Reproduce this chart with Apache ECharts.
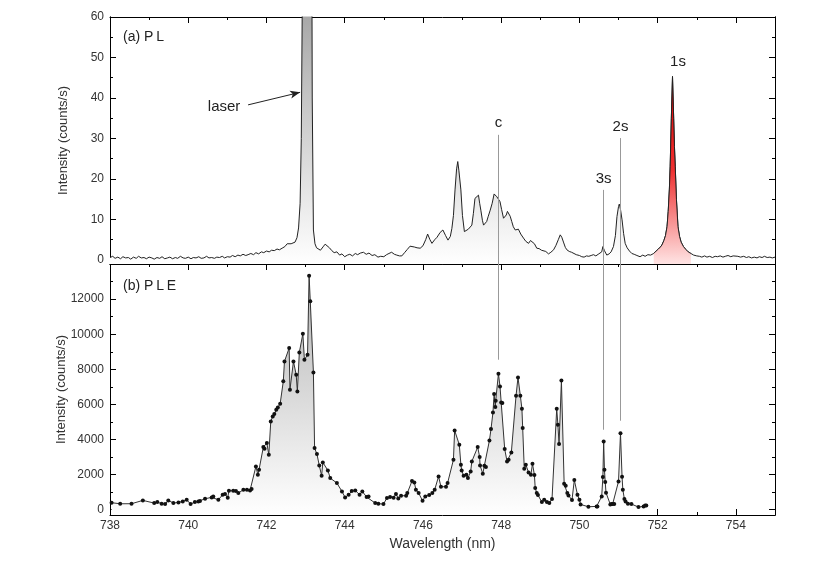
<!DOCTYPE html>
<html>
<head>
<meta charset="utf-8">
<script src="https://cdn.jsdelivr.net/npm/echarts@6/dist/echarts.min.js"></script>
<style>
  html, body { margin: 0; padding: 0; background: #fff; }
  #chart { width: 831px; height: 561px; }
</style>
</head>
<body>
<div id="chart"></div>
<script>
// (a) PL spectrum
const plWave = [
  738.00, 738.07, 738.13, 738.20, 738.27, 738.33, 738.40, 738.47, 738.53, 738.60,
  738.67, 738.73, 738.80, 738.87, 738.93, 739.00, 739.07, 739.13, 739.20, 739.27,
  739.33, 739.40, 739.47, 739.53, 739.60, 739.67, 739.73, 739.80, 739.87, 739.93,
  740.00, 740.07, 740.13, 740.20, 740.27, 740.33, 740.40, 740.47, 740.53, 740.60,
  740.67, 740.73, 740.80, 740.87, 740.93, 741.00, 741.07, 741.13, 741.20, 741.27,
  741.33, 741.40, 741.47, 741.53, 741.60, 741.67, 741.73, 741.80, 741.87, 741.93,
  742.00, 742.07, 742.13, 742.20, 742.27, 742.33, 742.40, 742.47, 742.53, 742.58,
  742.63, 742.68, 742.73, 742.78, 742.82, 742.86, 742.89, 742.92, 742.95, 743.00,
  743.05, 743.10, 743.14, 743.17, 743.20, 743.24, 743.28, 743.33, 743.38, 743.41,
  743.46, 743.50, 743.55, 743.61, 743.67, 743.73, 743.80, 743.87, 743.93, 744.00,
  744.07, 744.13, 744.20, 744.27, 744.33, 744.40, 744.48, 744.55, 744.62, 744.70,
  744.77, 744.85, 744.92, 745.00, 745.07, 745.13, 745.20, 745.27, 745.33, 745.40,
  745.46, 745.53, 745.60, 745.67, 745.72, 745.78, 745.85, 745.93, 746.00, 746.07,
  746.12, 746.18, 746.23, 746.30, 746.36, 746.44, 746.51, 746.58, 746.64, 746.70,
  746.74, 746.78, 746.82, 746.86, 746.89, 746.92, 746.97, 747.01, 747.06, 747.11,
  747.16, 747.21, 747.25, 747.29, 747.33, 747.38, 747.42, 747.45, 747.48, 747.52,
  747.55, 747.59, 747.63, 747.67, 747.72, 747.77, 747.82, 747.86, 747.89, 747.93,
  747.97, 748.01, 748.06, 748.10, 748.13, 748.16, 748.19, 748.23, 748.27, 748.31,
  748.36, 748.40, 748.44, 748.50, 748.57, 748.63, 748.70, 748.75, 748.80, 748.85,
  748.91, 748.97, 749.03, 749.08, 749.14, 749.21, 749.27, 749.34, 749.40, 749.46,
  749.51, 749.55, 749.60, 749.64, 749.68, 749.74, 749.80, 749.85, 749.92, 750.00,
  750.06, 750.12, 750.18, 750.24, 750.30, 750.36, 750.42, 750.48, 750.53, 750.57,
  750.60, 750.64, 750.70, 750.76, 750.81, 750.87, 750.92, 750.96, 751.00, 751.02,
  751.05, 751.09, 751.13, 751.17, 751.22, 751.28, 751.34, 751.40, 751.47, 751.55,
  751.62, 751.68, 751.75, 751.82, 751.90, 751.96, 752.02, 752.07, 752.11, 752.16,
  752.20, 752.24, 752.27, 752.30, 752.32, 752.35, 752.38, 752.41, 752.43, 752.45,
  752.48, 752.52, 752.56, 752.60, 752.66, 752.72, 752.78, 752.85, 752.92, 753.00,
  753.07, 753.13, 753.20, 753.26, 753.33, 753.40, 753.47, 753.53, 753.60, 753.67,
  753.73, 753.80, 753.87, 753.93, 753.98, 754.05, 754.12, 754.20, 754.27, 754.33,
  754.40, 754.47, 754.54, 754.60, 754.67, 754.73, 754.80, 754.87, 754.93, 755.00
];
const plCounts = [
  0.6, 0.9, 0.4, 0.7, 0.3, 0.8, 0.5, 0.6, 0.2, 0.7,
  0.4, 0.9, 0.5, 0.6, 0.3, 0.7, 0.5, 0.2, 0.6, 0.4,
  0.8, 0.3, 0.5, 0.7, 0.3, 0.6, 0.4, 0.9, 0.5, 0.4,
  0.7, 0.3, 0.6, 0.5, 0.8, 0.4, 0.5, 0.9, 0.5, 0.6,
  0.4, 0.7, 0.6, 0.9, 0.5, 0.8, 0.7, 1.1, 0.8, 1.2,
  1.0, 1.4, 1.1, 1.3, 1.6, 1.3, 1.8, 1.5, 2.0, 1.8,
  2.2, 2.0, 2.4, 2.3, 2.7, 2.5, 2.9, 3.3, 4.0, 4.3,
  4.0, 3.7, 4.4, 5.5, 7.9, 14, 30, 70, 160, 300,
  320, 280, 150, 40, 7.4, 4.0, 3.0, 2.9, 2.4, 2.3,
  3.4, 3.9, 3.5, 3.0, 2.3, 1.8, 2.0, 1.2, 1.5, 0.8,
  1.2, 1.4, 1.0, 1.6, 1.3, 1.7, 1.9, 1.4, 1.7, 1.1,
  1.3, 0.7, 0.9, 0.8, 1.3, 1.6, 1.9, 1.4, 1.2, 1.0,
  1.0, 1.8, 2.6, 3.4, 3.7, 3.2, 3.0, 2.9, 3.5, 5.0,
  6.4, 5.0, 4.1, 5.0, 5.6, 6.8, 7.4, 6.0, 4.9, 5.8,
  7.8, 11, 17.3, 22.5, 24.3, 22, 17.3, 11, 7.0, 7.3,
  7.6, 8.0, 8.6, 11.5, 15.2, 14.8, 16.0, 14, 12.3, 9.8,
  8.6, 9.0, 9.5, 10.8, 12.3, 14.0, 16.3, 15.9, 15.6, 15.0,
  14.4, 12.5, 10.3, 10.6, 11.1, 12.0, 12.2, 10.8, 9.5, 8.2,
  7.4, 7.3, 7.6, 6.4, 5.4, 4.6, 4.1, 4.8, 5.2, 4.0,
  2.9, 2.8, 2.4, 2.5, 2.1, 1.5, 1.9, 2.5, 3.6, 5.0,
  6.2, 5.6, 4.2, 3.1, 2.5, 2.1, 1.9, 1.6, 1.3, 1.1,
  0.8, 0.7, 1.0, 0.9, 1.1, 1.3, 1.0, 1.4, 1.2, 2.0,
  3.3, 2.3, 1.2, 1.5, 2.0, 3.3, 6.0, 10.7, 13.2, 13.8,
  12.5, 9.9, 6.5, 4.1, 3.0, 2.2, 1.6, 1.4, 1.1, 0.8,
  1.2, 0.9, 1.3, 1.2, 1.6, 2.2, 2.7, 3.2, 3.7, 4.8,
  6.0, 8.2, 12, 17.5, 23, 35, 45.3, 35, 28, 23,
  15, 8.2, 5.8, 4.4, 3.3, 2.6, 2.0, 1.6, 1.2, 1.0,
  0.9, 0.7, 1.0, 0.7, 0.9, 0.6, 0.9, 0.8, 1.0, 0.7,
  0.9, 1.1, 0.8, 1.0, 1.3, 0.9, 0.7, 0.9, 0.6, 0.8,
  0.5, 0.7, 0.5, 0.8, 0.6, 0.9, 0.6, 0.7, 0.5, 0.7
];

// (b) PLE points
const pleWave = [
  738.04, 738.26, 738.55, 738.84, 739.13, 739.21, 739.32, 739.41, 739.49, 739.62,
  739.75, 739.86, 739.96, 740.06, 740.17, 740.26, 740.30, 740.43, 740.60, 740.64,
  740.77, 740.88, 740.94, 741.01, 741.04, 741.15, 741.22, 741.28, 741.41, 741.50,
  741.58, 741.62, 741.73, 741.78, 741.81, 741.92, 741.95, 742.01, 742.06, 742.11,
  742.16, 742.20, 742.25, 742.29, 742.35, 742.43, 742.46, 742.58, 742.60, 742.69,
  742.76, 742.79, 742.84, 742.93, 742.97, 743.05, 743.09, 743.12, 743.20, 743.23,
  743.29, 743.35, 743.41, 743.44, 743.57, 743.63, 743.80, 743.93, 744.01, 744.10,
  744.18, 744.27, 744.38, 744.45, 744.56, 744.61, 744.78, 744.86, 744.99, 745.08,
  745.16, 745.25, 745.31, 745.37, 745.44, 745.57, 745.60, 745.72, 745.78, 745.82,
  745.89, 745.99, 746.06, 746.16, 746.24, 746.30, 746.40, 746.46, 746.59, 746.63,
  746.78, 746.81, 746.93, 746.97, 746.99, 747.04, 747.11, 747.15, 747.22, 747.25,
  747.40, 747.45, 747.46, 747.53, 747.57, 747.61, 747.70, 747.74, 747.79, 747.82,
  747.85, 747.86, 747.93, 747.97, 748.00, 748.03, 748.09, 748.15, 748.19, 748.26,
  748.38, 748.43, 748.49, 748.53, 748.55, 748.59, 748.63, 748.70, 748.76, 748.80,
  748.85, 748.87, 748.91, 748.94, 749.04, 749.10, 749.17, 749.23, 749.30, 749.42,
  749.45, 749.48, 749.54, 749.61, 749.65, 749.69, 749.72, 749.81, 749.87, 749.95,
  750.00, 750.03, 750.23, 750.44, 750.46, 750.57, 750.60, 750.62, 750.64, 750.66,
  750.68, 750.79, 750.82, 750.85, 750.89, 751.00, 751.05, 751.09, 751.11, 751.15,
  751.18, 751.24, 751.33, 751.51, 751.64, 751.68, 751.71
];
const pleCounts = [
  400, 340, 342, 532, 380, 437, 342, 323, 532, 380,
  418, 475, 570, 323, 437, 475, 494, 627, 703, 760,
  570, 855, 893, 684, 1083, 1083, 1064, 950, 1140, 1140,
  1102, 1178, 2469, 1994, 2279, 3571, 3476, 3799, 3134, 5033,
  5318, 5451, 5698, 5831, 6040, 7313, 8452, 9212, 6838, 8452,
  7692, 6743, 8965, 10028, 8547, 8832, 13333, 11871, 7825, 3514,
  3172, 2526, 1937, 2697, 2241, 1804, 1520, 1045, 703, 855,
  1064, 1102, 855, 1045, 722, 760, 380, 342, 323, 665,
  722, 684, 893, 646, 798, 798, 950, 1634, 1558, 1140,
  950, 513, 760, 836, 950, 1140, 1899, 1311, 1311, 1520,
  2849, 4520, 3704, 2564, 2241, 1937, 1994, 1804, 2184, 2754,
  3571, 3001, 2526, 2051, 2507, 2431, 3951, 4596, 5546, 6591,
  5850, 6211, 7749, 7028, 6116, 6078, 3457, 2754, 2849, 3267,
  6496, 7540, 6496, 5755, 4653, 2336, 2564, 2127, 1994, 2621,
  1975, 1235, 950, 836, 437, 570, 437, 380, 618, 5755,
  4843, 3742, 7369, 1481, 1368, 950, 817, 550, 1690, 855,
  570, 300, 170, 190, 190, 760, 1861, 3894, 2279, 1577,
  970, 300, 323, 323, 330, 1615, 4360, 1880, 1140, 608,
  465, 340, 323, 152, 190, 247, 240
];

// axis ticks
const plTicks = [0, 10, 20, 30, 40, 50, 60];
const plMinorTicks = [5, 15, 25, 35, 45, 55];
const pleTicks = [0, 2000, 4000, 6000, 8000, 10000, 12000];
const pleMinorTicks = [1000, 3000, 5000, 7000, 9000, 11000, 13000];

// marked transitions: label, wavelength, top of the line in (a), bottom of the line in (b)
const markNames = ['c', '3s', '2s'];
const markWave = [747.93, 750.62, 751.05];
const markTopPL = [30.9, 17.3, 30.1];
const markEndPLE = [8547, 4558, 5071];

// red 1s peak range
const oneSFrom = 751.9;
const oneSTo = 752.85;

const FONT = '"Liberation Sans", Arial, sans-serif';

const chart = echarts.init(document.getElementById('chart'));

const plData = plWave.map((w, i) => [w, plCounts[i]]);
const redData = plData.filter(d => d[0] >= oneSFrom && d[0] <= oneSTo);
const pleData = pleWave.map((w, i) => [w, pleCounts[i]]);

function xAx(grid, pos, showLabel, name) {
  return {
    type: 'value', gridIndex: grid, position: pos,
    min: 738, max: 755, interval: 2,
    name: name || '', nameLocation: 'middle', nameGap: 22, nameMoveOverlap: false,
    nameTextStyle: { color: '#333', fontSize: 14, fontFamily: FONT },
    axisLine: { show: true, onZero: false, lineStyle: { color: '#000', width: 1 } },
    axisTick: { show: true, inside: true, length: 6, lineStyle: { color: '#000' } },
    minorTick: { show: true, splitNumber: 2, length: 3, lineStyle: { color: '#000' } },
    axisLabel: { show: showLabel, showMaxLabel: false, color: '#333', fontSize: 12, fontFamily: FONT, margin: 5 },
    splitLine: { show: false }
  };
}

function yAx(grid, pos, min, max, ticks, len, showLabel, name, gap) {
  return {
    type: 'value', gridIndex: grid, position: pos, min: min, max: max,
    name: name || '', nameLocation: 'middle', nameGap: gap || 40, nameMoveOverlap: false,
    nameTextStyle: { color: '#333', fontSize: 13, fontFamily: FONT },
    axisLine: { show: true, onZero: false, lineStyle: { color: '#000', width: 1 } },
    axisTick: { show: true, inside: true, length: len, customValues: ticks, lineStyle: { color: '#000' } },
    axisLabel: {
      show: showLabel, customValues: ticks, color: '#333', fontSize: 12, fontFamily: FONT, margin: 6,
      formatter: v => String(v)
    },
    splitLine: { show: false }
  };
}

const grayTop = new echarts.graphic.LinearGradient(0, 17, 0, 264, [
  { offset: 0, color: '#a8a8a8' }, { offset: 1, color: '#ffffff' }
], true);
const grayBottom = new echarts.graphic.LinearGradient(0, 264, 0, 515, [
  { offset: 0, color: '#b0b0b0' }, { offset: 1, color: '#ffffff' }
], true);
const redFill = new echarts.graphic.LinearGradient(0, 0, 0, 1, [
  { offset: 0, color: '#d80000' }, { offset: 0.5, color: '#ee3030' }, { offset: 1, color: '#ffe4e4' }
]);

const labelStyle = { color: '#222', fontSize: 15, fontFamily: FONT };
const thinLine = { color: '#999', width: 1, type: 'solid' };

const plMarkLines = markNames.map((n, i) => [
  { coord: [markWave[i], markTopPL[i]], lineStyle: thinLine,
    label: Object.assign({ show: true, position: 'start', distance: 4, formatter: n }, labelStyle) },
  { coord: [markWave[i], -1] }
]);
plMarkLines.push([
  { coord: [741.53, 38.3], lineStyle: { color: '#222', width: 1, type: 'solid' },
    label: Object.assign({ show: true, position: 'start', distance: 8, formatter: 'laser' }, labelStyle) },
  { coord: [742.86, 41.4], symbol: 'arrow', symbolSize: [6, 10] }
]);

const pleMarkLines = markNames.map((n, i) => [
  { coord: [markWave[i], 14000], lineStyle: thinLine, label: { show: false } },
  { coord: [markWave[i], markEndPLE[i]] }
]);

chart.setOption({
  animation: false,
  backgroundColor: '#fff',
  grid: [
    { left: 110, right: 56, top: 17, height: 247 },
    { left: 110, right: 56, top: 264, height: 251 }
  ],
  xAxis: [
    xAx(0, 'bottom', false),
    xAx(0, 'top', false),
    xAx(1, 'top', false),
    xAx(1, 'bottom', true, 'Wavelength (nm)')
  ],
  yAxis: [
    yAx(0, 'left', -1, 60, plTicks, 6, true, 'Intensity (counts/s)', 40),
    yAx(0, 'left', -1, 60, plMinorTicks, 3, false),
    yAx(0, 'right', -1, 60, plTicks, 6, false),
    yAx(0, 'right', -1, 60, plMinorTicks, 3, false),
    yAx(1, 'left', -300, 14000, pleTicks, 6, true, 'Intensity (counts/s)', 42),
    yAx(1, 'left', -300, 14000, pleMinorTicks, 3, false),
    yAx(1, 'right', -300, 14000, pleTicks, 6, false),
    yAx(1, 'right', -300, 14000, pleMinorTicks, 3, false)
  ],
  graphic: [
    { type: 'text', left: 123, top: 30, style: { text: '(a) P\u2009L', font: '14px ' + FONT, fill: '#222' } },
    { type: 'text', left: 123, top: 279, style: { text: '(b) P\u2009L\u2009E', font: '14px ' + FONT, fill: '#222' } }
  ],
  series: [
    {
      type: 'line', name: 'PL', xAxisIndex: 0, yAxisIndex: 0, data: plData,
      symbol: 'none', z: 2,
      lineStyle: { color: '#222', width: 1 },
      areaStyle: { color: grayTop, origin: 'start', opacity: 1 },
      markLine: { silent: true, animation: false, symbol: ['none', 'none'], data: plMarkLines },
      markPoint: {
        silent: true, animation: false,
        data: [{
          coord: [752.52, 48.9], symbol: 'circle', symbolSize: 1,
          itemStyle: { color: 'rgba(0,0,0,0)' },
          label: Object.assign({ show: true, position: 'inside', formatter: '1s' }, labelStyle)
        }]
      }
    },
    {
      type: 'line', name: '1s', xAxisIndex: 0, yAxisIndex: 0, data: redData,
      symbol: 'none', z: 3,
      lineStyle: { color: '#222', width: 1 },
      areaStyle: { color: redFill, origin: 'start', opacity: 1 }
    },
    {
      type: 'line', name: 'PLE', xAxisIndex: 3, yAxisIndex: 4, data: pleData,
      symbol: 'circle', symbolSize: 4, showAllSymbol: true, z: 2,
      itemStyle: { color: '#111' },
      lineStyle: { color: '#333', width: 1 },
      areaStyle: { color: grayBottom, origin: 'start', opacity: 1 },
      markLine: { silent: true, animation: false, symbol: ['none', 'none'], data: pleMarkLines }
    }
  ]
});
</script>
</body>
</html>
